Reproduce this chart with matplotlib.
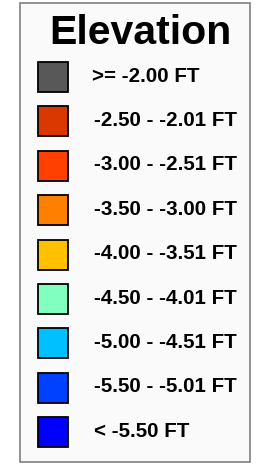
import matplotlib.pyplot as plt
from matplotlib.patches import Rectangle

# legend entries, top to bottom
labels = [">= -2.00 FT", "-2.50 - -2.01 FT", "-3.00 - -2.51 FT",
          "-3.50 - -3.00 FT", "-4.00 - -3.51 FT", "-4.50 - -4.01 FT",
          "-5.00 - -4.51 FT", "-5.50 - -5.01 FT", "< -5.50 FT"]
colors = ["#585858", "#D93800", "#FF4000", "#FF8000", "#FFC000",
          "#80FFC0", "#00C0FF", "#0040FF", "#0000FF"]
title = "Elevation"

fig = plt.figure(figsize=(2.62, 4.66), dpi=100)
ax = fig.add_axes([0, 0, 1, 1])
ax.set_xlim(0, 262)
ax.set_ylim(466, 0)
ax.axis("off")

# outer frame
ax.add_patch(Rectangle((20, 3), 229.5, 458.5, facecolor="#fafafa",
                       edgecolor="#7f7f7f", linewidth=1.2))

ax.text(140, 33, title, ha="center", va="center", fontsize=29.5,
        fontweight="bold", family="Liberation Sans")

y0, step = 77, 44.4
for i, (lab, c) in enumerate(zip(labels, colors)):
    yc = y0 + i * step
    ax.add_patch(Rectangle((38, yc - 15), 30, 30, facecolor=c,
                           edgecolor="black", linewidth=1.3))
    x = 92 if i == 0 else 94
    ax.text(x, yc - 1, lab, ha="left", va="center", fontsize=14.8,
            fontweight="bold", family="Liberation Sans")

fig.savefig("out.png", dpi=100)
